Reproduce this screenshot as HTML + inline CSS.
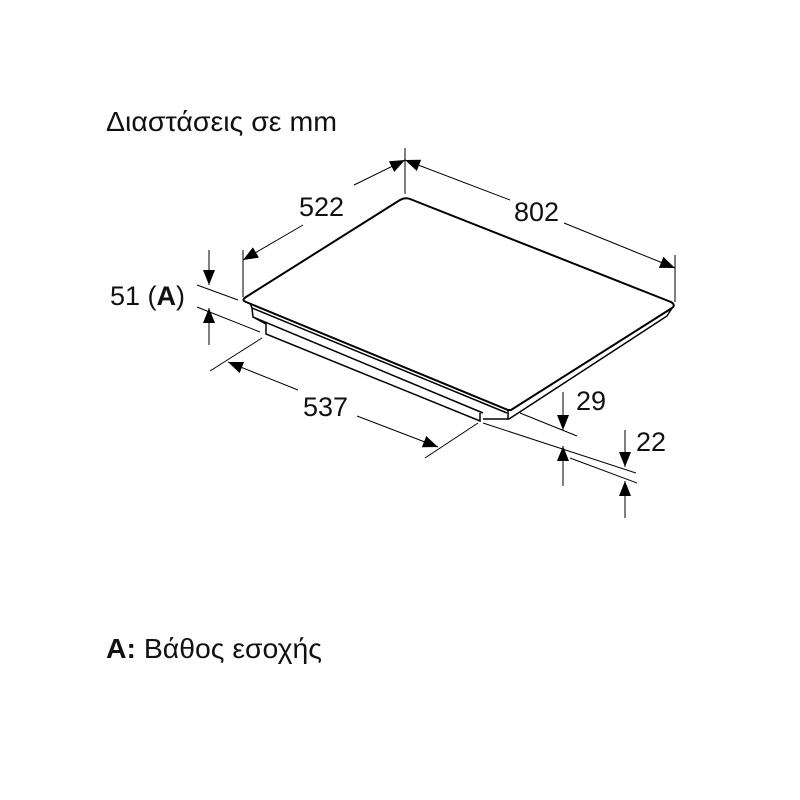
<!DOCTYPE html>
<html><head><meta charset="utf-8"><style>
html,body{margin:0;padding:0;background:#fff;}
svg{display:block}
text{font-family:"Liberation Sans",Arial,sans-serif;fill:#111;}
</style></head><body>
<svg width="800" height="800" viewBox="0 0 800 800" xmlns="http://www.w3.org/2000/svg">
<defs>
<marker id="ar" viewBox="0 0 10 10" refX="10" refY="5" markerWidth="15" markerHeight="15" markerUnits="userSpaceOnUse" orient="auto">
<path d="M0,1 L10,5 L0,9 Z" fill="#000"/></marker>
</defs>
<text x="106" y="131" font-size="28" textLength="231" lengthAdjust="spacingAndGlyphs">Διαστάσεις σε mm</text>
<text x="106" y="658" font-size="28" textLength="216" lengthAdjust="spacingAndGlyphs"><tspan font-weight="bold">A:</tspan> Βάθος εσοχής</text>

<g fill="none" stroke="#000">
<path d="M246,297 L400,200 Q405,197 410,199 L671,302 Q676,305 672,308 L511,410 L508,410 L246,302 Q241,300 246,297 Z" stroke-width="2"/>
<path d="M250,303 L252,308 L507,413" stroke-width="1.5"/>
<path d="M508,410 L508,419" stroke-width="1.5"/>
<path d="M672,308 L667,316 L509,419 L483,419" stroke-width="1.5"/>
<path d="M252,308 L253,317 L483,413" stroke-width="1.5"/>
<path d="M253,317 L266,324 L266,334 L480,421 L480,413" stroke-width="1.5"/>
</g>

<g fill="none" stroke="#000" stroke-width="1">
<line x1="405" y1="148" x2="405" y2="194"/>
<line x1="243" y1="250" x2="243" y2="297"/>
<line x1="675" y1="255" x2="675" y2="302"/>
<line x1="354" y1="185" x2="405" y2="160" marker-end="url(#ar)"/>
<line x1="303" y1="225" x2="243" y2="260" marker-end="url(#ar)"/>
<line x1="510" y1="200" x2="405" y2="160" marker-end="url(#ar)"/>
<line x1="564" y1="223" x2="675" y2="268" marker-end="url(#ar)"/>
<line x1="197" y1="285" x2="238" y2="300"/>
<line x1="197" y1="307" x2="260" y2="332"/>
<line x1="209" y1="250" x2="209" y2="285" marker-end="url(#ar)"/>
<line x1="209" y1="345" x2="209" y2="308" marker-end="url(#ar)"/>
<line x1="262" y1="338" x2="210" y2="371"/>
<line x1="478" y1="423" x2="425" y2="458"/>
<line x1="298" y1="390" x2="228" y2="362" marker-end="url(#ar)"/>
<line x1="357" y1="416" x2="438" y2="447" marker-end="url(#ar)"/>
<line x1="520" y1="413" x2="577" y2="436"/>
<line x1="483" y1="423" x2="636" y2="473"/>
<line x1="570" y1="458" x2="637" y2="483"/>
<line x1="563" y1="392" x2="563" y2="430" marker-end="url(#ar)"/>
<line x1="563" y1="486" x2="563" y2="446" marker-end="url(#ar)"/>
<line x1="625" y1="430" x2="625" y2="467" marker-end="url(#ar)"/>
<line x1="625" y1="518" x2="625" y2="481" marker-end="url(#ar)"/>
</g>

<g font-size="27">
<text x="299" y="216">522</text>
<text x="514" y="221">802</text>
<text x="303" y="416">537</text>
<text x="576" y="410">29</text>
<text x="636" y="451">22</text>
<text x="110" y="305">51 (<tspan font-weight="bold">A</tspan>)</text>
</g>
</svg>
</body></html>
